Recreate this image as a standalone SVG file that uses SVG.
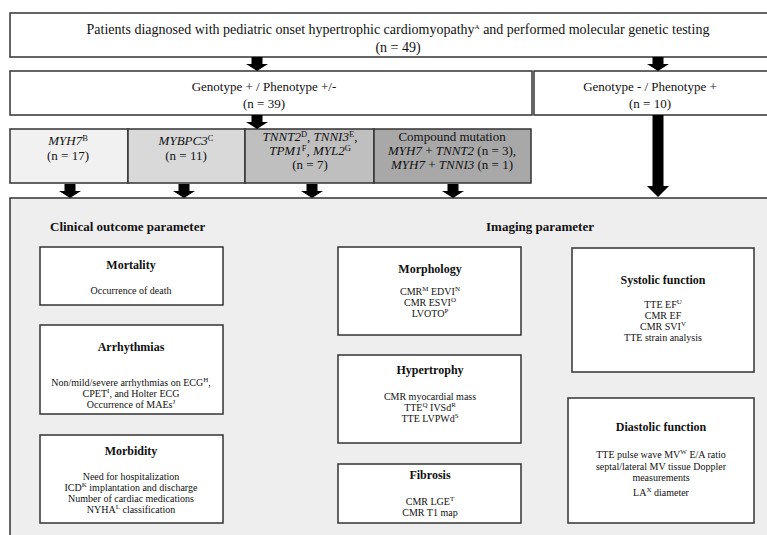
<svg xmlns="http://www.w3.org/2000/svg" width="767" height="535" viewBox="0 0 767 535">
<style>
text{font-family:"Liberation Serif","Times New Roman",serif;fill:#111;text-anchor:middle}
.box{fill:#fff;stroke:#333;stroke-width:1.5}
.big{font-size:13px}
.top{font-size:14px}
.it{font-style:italic}
.hd{font-size:13px;font-weight:bold;text-anchor:start}
.tt{font-size:12px;font-weight:bold}
.bd{font-size:10px}
.sup{font-size:7px}
.sup2{font-size:8.5px}
.arrow{fill:#000}
</style>
<defs>
<polygon id="sa" points="-5.5,0 5.5,0 5.5,7 11,7 0,14 -11,7 -5.5,7"/>
</defs>
<rect width="767" height="535" fill="#fff"/>

<g id="panel">
<rect x="10" y="198" width="762" height="345" fill="#eeeeee" stroke="#333" stroke-width="1.5"/>
<text class="hd" x="50" y="231">Clinical outcome parameter</text>
<text class="hd" x="486" y="231">Imaging parameter</text>
</g>

<g id="top">
<rect class="box" x="10" y="13" width="762" height="44" stroke="#555" stroke-width="2"/>
<text class="top" x="398" y="34">Patients diagnosed with pediatric onset hypertrophic cardiomyopathy<tspan class="sup" dy="-5">A</tspan><tspan dy="5"> and performed molecular genetic testing</tspan></text>
<text class="top" x="398" y="52">(n = 49)</text>
</g>

<g id="geno-pos">
<rect class="box" x="10" y="71" width="522" height="44"/>
<text class="big" x="264" y="91">Genotype + / Phenotype +/-</text>
<text class="big" x="264" y="108">(n = 39)</text>
</g>

<g id="geno-neg">
<rect class="box" x="534" y="71" width="238" height="44"/>
<text class="big" x="650" y="91">Genotype - / Phenotype +</text>
<text class="big" x="650" y="108">(n = 10)</text>
</g>

<g id="myh7">
<rect x="10" y="129" width="118" height="54" fill="#f1f1f1" stroke="#333" stroke-width="1.5"/>
<text class="big" x="68" y="145"><tspan class="it">MYH7</tspan><tspan class="sup2" dy="-4">B</tspan></text>
<text class="big" x="68" y="160">(n = 17)</text>
</g>

<g id="mybpc3">
<rect x="128" y="129" width="117" height="54" fill="#d9d9d9" stroke="#333" stroke-width="1.5"/>
<text class="big" x="186" y="145"><tspan class="it">MYBPC3</tspan><tspan class="sup2" dy="-4">C</tspan></text>
<text class="big" x="186" y="160">(n = 11)</text>
</g>

<g id="tnnt2">
<rect x="245" y="129" width="129" height="54" fill="#bfbfbf" stroke="#333" stroke-width="1.5"/>
<text class="big" x="310" y="141"><tspan class="it">TNNT2</tspan><tspan class="sup2" dy="-4">D</tspan><tspan dy="4">, </tspan><tspan class="it">TNNI3</tspan><tspan class="sup2" dy="-4">E</tspan><tspan dy="4">,</tspan></text>
<text class="big" x="310" y="155"><tspan class="it">TPM1</tspan><tspan class="sup2" dy="-4">F</tspan><tspan dy="4">, </tspan><tspan class="it">MYL2</tspan><tspan class="sup2" dy="-4">G</tspan></text>
<text class="big" x="310" y="169">(n = 7)</text>
</g>

<g id="compound">
<rect x="374" y="129" width="157" height="54" fill="#a8a8a8" stroke="#333" stroke-width="1.5"/>
<text class="big" x="452" y="141">Compound mutation</text>
<text class="big" x="452" y="155"><tspan class="it">MYH7</tspan> + <tspan class="it">TNNT2</tspan> (n = 3),</text>
<text class="big" x="452" y="169"><tspan class="it">MYH7</tspan> + <tspan class="it">TNNI3</tspan> (n = 1)</text>
</g>

<g id="mortality">
<rect class="box" x="40" y="247" width="183" height="58"/>
<text class="tt" x="131" y="269">Mortality</text>
<text class="bd" x="131" y="294">Occurrence of death</text>
</g>

<g id="arrhythmias">
<rect class="box" x="40" y="325" width="183" height="89"/>
<text class="tt" x="131" y="351">Arrhythmias</text>
<text class="bd" x="131" y="386">Non/mild/severe arrhythmias on ECG<tspan class="sup" dy="-4">H</tspan><tspan dy="4">,</tspan></text>
<text class="bd" x="131" y="397">CPET<tspan class="sup" dy="-4">I</tspan><tspan dy="4">, and Holter ECG</tspan></text>
<text class="bd" x="131" y="408">Occurrence of MAEs<tspan class="sup" dy="-4">J</tspan></text>
</g>

<g id="morbidity">
<rect class="box" x="40" y="435" width="183" height="88"/>
<text class="tt" x="131" y="455">Morbidity</text>
<text class="bd" x="131" y="480">Need for hospitalization</text>
<text class="bd" x="131" y="491">ICD<tspan class="sup" dy="-4">K</tspan><tspan dy="4"> implantation and discharge</tspan></text>
<text class="bd" x="131" y="502">Number of cardiac medications</text>
<text class="bd" x="131" y="513">NYHA<tspan class="sup" dy="-4">L</tspan><tspan dy="4"> classification</tspan></text>
</g>

<g id="morphology">
<rect class="box" x="338" y="247" width="183" height="88"/>
<text class="tt" x="430" y="273">Morphology</text>
<text class="bd" x="430" y="295">CMR<tspan class="sup" dy="-4">M</tspan><tspan dy="4"> EDVI</tspan><tspan class="sup" dy="-4">N</tspan></text>
<text class="bd" x="430" y="306">CMR ESVI<tspan class="sup" dy="-4">O</tspan></text>
<text class="bd" x="430" y="317">LVOTO<tspan class="sup" dy="-4">P</tspan></text>
</g>

<g id="hypertrophy">
<rect class="box" x="338" y="355" width="183" height="88"/>
<text class="tt" x="430" y="374">Hypertrophy</text>
<text class="bd" x="430" y="400">CMR myocardial mass</text>
<text class="bd" x="430" y="411">TTE<tspan class="sup" dy="-4">Q</tspan><tspan dy="4"> IVSd</tspan><tspan class="sup" dy="-4">R</tspan></text>
<text class="bd" x="430" y="422">TTE LVPWd<tspan class="sup" dy="-4">S</tspan></text>
</g>

<g id="fibrosis">
<rect class="box" x="338" y="464" width="183" height="59"/>
<text class="tt" x="430" y="479">Fibrosis</text>
<text class="bd" x="430" y="505">CMR LGE<tspan class="sup" dy="-4">T</tspan></text>
<text class="bd" x="430" y="516">CMR T1 map</text>
</g>

<g id="systolic">
<rect class="box" x="572" y="248" width="182" height="124"/>
<text class="tt" x="663" y="284">Systolic function</text>
<text class="bd" x="663" y="308">TTE EF<tspan class="sup" dy="-4">U</tspan></text>
<text class="bd" x="663" y="319">CMR EF</text>
<text class="bd" x="663" y="330">CMR SVI<tspan class="sup" dy="-4">V</tspan></text>
<text class="bd" x="663" y="341">TTE strain analysis</text>
</g>

<g id="diastolic">
<rect class="box" x="568" y="398" width="186" height="125"/>
<text class="tt" x="661" y="431">Diastolic function</text>
<text class="bd" x="661" y="458">TTE pulse wave MV<tspan class="sup" dy="-4">W</tspan><tspan dy="4"> E/A ratio</tspan></text>
<text class="bd" x="661" y="470">septal/lateral MV tissue Doppler</text>
<text class="bd" x="661" y="481">measurements</text>
<text class="bd" x="661" y="496">LA<tspan class="sup" dy="-4">X</tspan><tspan dy="4"> diameter</tspan></text>
</g>

<g id="connectors" class="arrow">
<use href="#sa" x="257" y="57"/>
<use href="#sa" x="658" y="57"/>
<use href="#sa" x="257" y="115"/>
<use href="#sa" x="70" y="184"/>
<use href="#sa" x="184" y="184"/>
<use href="#sa" x="312" y="184"/>
<use href="#sa" x="453" y="184"/>
<polygon points="652.5,115 663.5,115 663.5,186 669,186 658,197 647,186 652.5,186"/>
</g>
</svg>
